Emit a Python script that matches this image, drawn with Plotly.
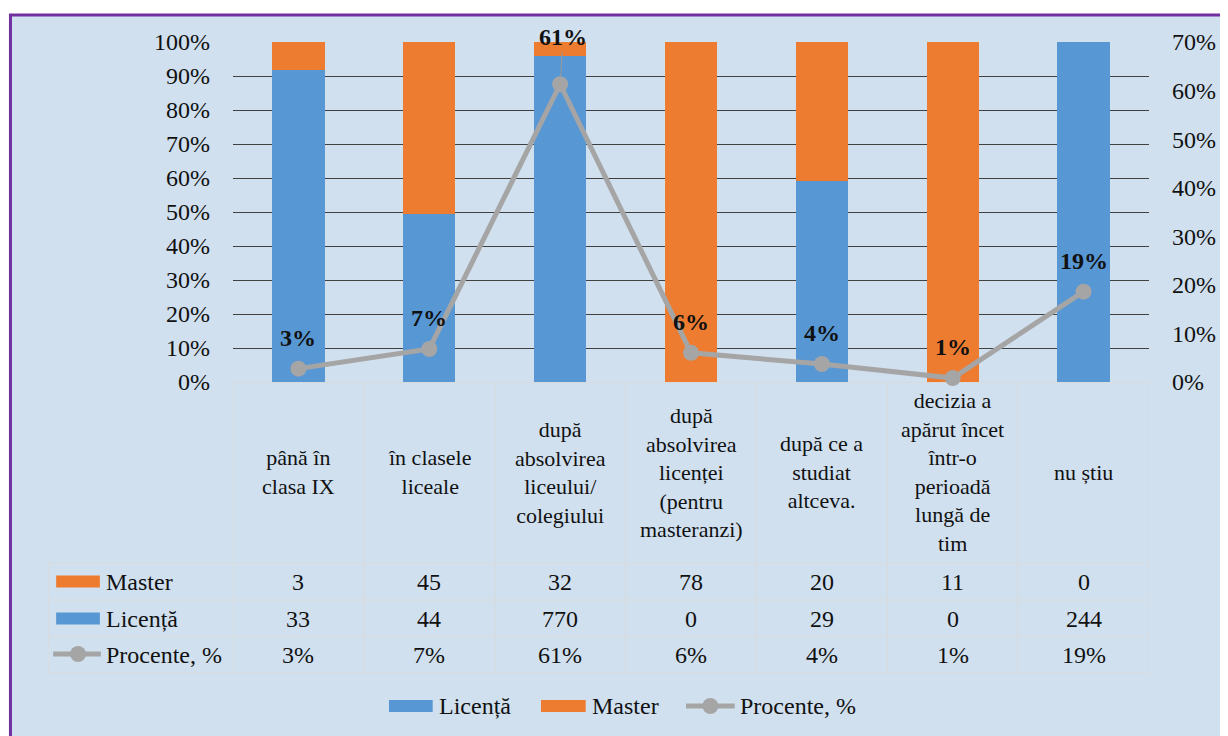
import plotly.graph_objects as go

# ---------------- data ----------------
categories = ["c1", "c2", "c3", "c4", "c5", "c6", "c7"]
category_labels = [
    "până în<br>clasa IX",
    "în clasele<br>liceale",
    "după<br>absolvirea<br>liceului/<br>colegiului",
    "după<br>absolvirea<br>licenței<br>(pentru<br>masteranzi)",
    "după ce a<br>studiat<br>altceva.",
    "decizia a<br>apărut încet<br>într-o<br>perioadă<br>lungă de<br>tim",
    "nu știu",
]
master = [3, 45, 32, 78, 20, 11, 0]
licenta = [33, 44, 770, 0, 29, 0, 244]
procente = [2.75, 6.8, 61.3, 6.0, 3.7, 0.8, 18.6]
procente_labels = ["3%", "7%", "61%", "6%", "4%", "1%", "19%"]
left_ticks = [0, 10, 20, 30, 40, 50, 60, 70, 80, 90, 100]
right_ticks = [0, 10, 20, 30, 40, 50, 60, 70]

# ---------------- style ----------------
OFF = 8  # page body margin
W, H = 1228 - OFF, 736 - OFF
L, T = 233 - OFF, 42 - OFF
PW, PH = 922, 340
R, B = W - L - PW, H - T - PH
FONT = "Liberation Serif, Times New Roman, serif"
TXT = "#111111"
BLUE = "#5797d4"
ORANGE = "#ee7c30"
GRAY = "#a5a5a5"
BG = "#d0e0ef"
PURPLE = "#7030a0"
TABLE_LINE = "#d9dadb"


def px_x(x):
    # page pixel -> paper x
    return (x - OFF - L) / PW


def px_y(y):
    # page pixel -> paper y
    return (T + PH - (y - OFF)) / PH


fig = go.Figure()
fig.add_trace(go.Bar(x=categories, y=licenta, name="Licență",
                     marker=dict(color=BLUE, line=dict(width=0)), yaxis="y"))
fig.add_trace(go.Bar(x=categories, y=master, name="Master",
                     marker=dict(color=ORANGE, line=dict(width=0)), yaxis="y"))
fig.add_trace(go.Scatter(x=categories, y=procente, name="Procente, %", yaxis="y2",
                         mode="lines+markers", line=dict(color=GRAY, width=5),
                         marker=dict(color=GRAY, size=16), cliponaxis=False))

shapes = []
annotations = []

# background panel with purple border
shapes.append(dict(type="rect", xref="paper", yref="paper", layer="below",
                   x0=px_x(9), x1=px_x(1250), y0=px_y(760), y1=px_y(15),
                   fillcolor=BG, line=dict(color=PURPLE, width=3)))

# data labels on line
for i, (c, v, t) in enumerate(zip(categories, procente, procente_labels)):
    if t == "61%":
        annotations.append(dict(x=c, y=v, xref="x", yref="y2", text=f"<b>{t}</b>",
                                showarrow=True, arrowhead=0, arrowwidth=1, arrowcolor="#9a9a9a",
                                ax=3, ay=-47, standoff=8,
                                font=dict(family=FONT, size=24, color=TXT)))
    else:
        annotations.append(dict(x=c, y=v, xref="x", yref="y2", text=f"<b>{t}</b>",
                                showarrow=False, yshift=31,
                                font=dict(family=FONT, size=24, color=TXT)))

# ---------------- data table ----------------
row_edges = [563, 600, 637, 673]
n = len(categories)
for i in range(n + 1):
    shapes.append(dict(type="line", xref="x", yref="paper", x0=i - 0.5, x1=i - 0.5,
                       y0=px_y(382), y1=px_y(673), line=dict(color=TABLE_LINE, width=1)))
shapes.append(dict(type="line", xref="paper", yref="paper", x0=px_x(47), x1=px_x(47),
                   y0=px_y(563), y1=px_y(673), line=dict(color=TABLE_LINE, width=1)))
for yy in row_edges:
    shapes.append(dict(type="line", xref="paper", yref="paper", x0=px_x(47), x1=1,
                       y0=px_y(yy), y1=px_y(yy), line=dict(color=TABLE_LINE, width=1)))

for c, lab in zip(categories, category_labels):
    annotations.append(dict(x=c, y=px_y(472), xref="x", yref="paper", text=lab,
                            showarrow=False, yanchor="middle", align="center",
                            font=dict(family=FONT, size=22, color=TXT)))

row_centers = [581.5, 618.5, 655]
rows = [master, licenta, procente_labels]
for rc, vals in zip(row_centers, rows):
    for c, v in zip(categories, vals):
        annotations.append(dict(x=c, y=px_y(rc), xref="x", yref="paper", text=str(v),
                                showarrow=False, yanchor="middle",
                                font=dict(family=FONT, size=24, color=TXT)))

key_defs = [("Master", ORANGE, 581.5, "bar"), ("Licență", BLUE, 618.5, "bar"),
            ("Procente, %", GRAY, 655, "line")]
for name, col, yc, kind in key_defs:
    if kind == "bar":
        shapes.append(dict(type="rect", xref="paper", yref="paper",
                           x0=px_x(55), x1=px_x(99), y0=px_y(yc + 6), y1=px_y(yc - 6),
                           fillcolor=col, line=dict(width=0)))
    else:
        shapes.append(dict(type="line", xref="paper", yref="paper",
                           x0=px_x(52), x1=px_x(100), y0=px_y(yc - 1), y1=px_y(yc - 1),
                           line=dict(color=col, width=5)))
        shapes.append(dict(type="circle", xref="paper", yref="paper",
                           x0=px_x(69), x1=px_x(85), y0=px_y(yc + 7), y1=px_y(yc - 9),
                           fillcolor=col, line=dict(width=0)))
    annotations.append(dict(x=px_x(103), y=px_y(yc), xref="paper", yref="paper",
                            text=name, showarrow=False, xanchor="left", yanchor="middle",
                            font=dict(family=FONT, size=24, color=TXT)))

ly = 706
legend_defs = [("Licență", BLUE, 390, 434, 438, "bar"),
               ("Master", ORANGE, 543, 588, 592, "bar"),
               ("Procente, %", GRAY, 689, 738, 741, "line")]
for name, col, k0, k1, tx, kind in legend_defs:
    if kind == "bar":
        shapes.append(dict(type="rect", xref="paper", yref="paper",
                           x0=px_x(k0), x1=px_x(k1), y0=px_y(ly + 6), y1=px_y(ly - 6),
                           fillcolor=col, line=dict(width=0)))
    else:
        shapes.append(dict(type="line", xref="paper", yref="paper",
                           x0=px_x(k0), x1=px_x(k1), y0=px_y(ly), y1=px_y(ly),
                           line=dict(color=col, width=5)))
        cx = (k0 + k1) / 2
        shapes.append(dict(type="circle", xref="paper", yref="paper",
                           x0=px_x(cx - 8), x1=px_x(cx + 8), y0=px_y(ly + 8), y1=px_y(ly - 8),
                           fillcolor=col, line=dict(width=0)))
    annotations.append(dict(x=px_x(tx), y=px_y(ly), xref="paper", yref="paper",
                            text=name, showarrow=False, xanchor="left", yanchor="middle",
                            font=dict(family=FONT, size=24, color=TXT)))

fig.update_layout(
    width=W, height=H,
    margin=dict(l=L, r=R, t=T, b=B, pad=0),
    paper_bgcolor="white",
    plot_bgcolor="rgba(0,0,0,0)",
    barmode="stack", barnorm="percent", bargap=0.6,
    showlegend=False,
    font=dict(family=FONT, size=24, color=TXT),
    xaxis=dict(range=[-0.5, n - 0.5], showticklabels=False, showgrid=False,
               zeroline=False, showline=False, ticks=""),
    yaxis=dict(range=[0, 100], tickmode="array", tickvals=left_ticks,
               ticktext=[f"{v}%" for v in left_ticks],
               showgrid=True, gridcolor="#404040", gridwidth=1.2,
               zeroline=True, zerolinecolor=TABLE_LINE, zerolinewidth=1,
               showline=False, ticks="", ticklabelstandoff=22,
               tickfont=dict(family=FONT, size=24, color=TXT)),
    yaxis2=dict(range=[0, 70], tickmode="array", tickvals=right_ticks,
                ticktext=[f"{v}%" for v in right_ticks],
                overlaying="y", side="right", showgrid=False, zeroline=False,
                showline=False, ticks="", ticklabelstandoff=22,
                tickfont=dict(family=FONT, size=24, color=TXT)),
    shapes=shapes,
    annotations=annotations,
)

fig.write_html("out.html")
